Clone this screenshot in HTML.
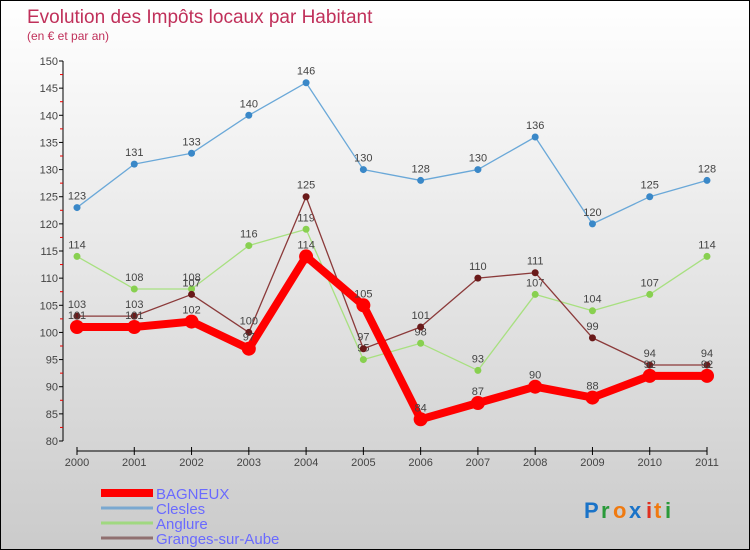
<!DOCTYPE html>
<html><head><meta charset="utf-8"><style>
body{margin:0}
#c{width:748px;height:548px;border:1px solid #000;background:linear-gradient(#fff,#f0f0f0 30%,#cbcbcb);position:relative;font-family:"Liberation Sans",sans-serif;overflow:hidden}
svg{position:absolute;left:0;top:0}
</style></head><body>
<div id="c">
<svg id="s" width="750" height="550">
<text x="26" y="22" font-size="19" fill="#c0305a">Evolution des Impôts locaux par Habitant</text>
<text x="26" y="39" font-size="12" fill="#c0305a">(en € et par an)</text>
<g font-size="22" font-weight="bold"><text x="583" y="517" fill="#1a73c8">P</text><text x="600" y="517" fill="#2a9a3a">r</text><text x="612" y="517" fill="#f07a10">o</text><text x="628" y="517" fill="#1a73c8">x</text><text x="645" y="517" fill="#e03020">i</text><text x="653" y="517" fill="#f07a10">t</text><text x="664" y="517" fill="#2a9a3a">i</text></g>
</svg>
</div>
<script>
const years=["2000","2001","2002","2003","2004","2005","2006","2007","2008","2009","2010","2011"];
const bagneux=[101,101,102,97,114,105,84,87,90,88,92,92];
const clesles=[123,131,133,140,146,130,128,130,136,120,125,128];
const anglure=[114,108,108,116,119,95,98,93,107,104,107,114];
const granges=[103,103,107,100,125,97,101,110,111,99,94,94];
const yTicks=[80,85,90,95,100,105,110,115,120,125,130,135,140,145,150];
const s=document.getElementById('s');const NS='http://www.w3.org/2000/svg';
function X(i){return 76+i*(706-76)/11}
function Y(v){return 440-(v-80)*380/70}
function mk(t,a,p){const e=document.createElementNS(NS,t);for(const k in a)e.setAttribute(k,a[k]);(p||s).appendChild(e);return e}
const ax=mk('g',{});


mk('line',{x1:62,y1:60,x2:62,y2:440,stroke:'#000'},ax);
mk('line',{x1:76,y1:450,x2:706,y2:450,stroke:'#000'},ax);
yTicks.forEach(v=>{mk('line',{x1:58,y1:Y(v),x2:62,y2:Y(v),stroke:'#000'},ax);
if(v<150)mk('line',{x1:59,y1:Y(v+2.5),x2:62,y2:Y(v+2.5),stroke:'#e00'},ax);
const t=mk('text',{x:57,y:Y(v)+4,'text-anchor':'end','font-size':11,fill:'#444'},ax);t.textContent=v;

});
years.forEach((y,i)=>{mk('line',{x1:X(i),y1:446,x2:X(i),y2:454,stroke:'#000'},ax);
const t=mk('text',{x:X(i),y:465,'text-anchor':'middle','font-size':11,fill:'#444'},ax);t.textContent=y;

});
function series(d,col,w,r,dot,name,labels){
const g=mk('g',{});


mk('polyline',{points:d.map((v,i)=>X(i)+','+Y(v)).join(' '),fill:'none',stroke:col,'stroke-width':w,'stroke-linejoin':'round'},g);
d.forEach((v,i)=>{const c=mk('circle',{cx:X(i),cy:Y(v),r:r,fill:dot},g);


const t=mk('text',{x:X(i),y:Y(v)-8,'text-anchor':'middle','font-size':11,fill:'#444'},g);t.textContent=v;

});}
series(clesles,'#6aa8d8',1.3,3.5,'#3a88c8','clesles');
series(anglure,'#a8e080',1.3,3.5,'#88d050','anglure');
series(granges,'#8b3a3a',1.3,3.5,'#6a1a1a','granges');
series(bagneux,'#f00',8,7,'#f00','bagneux');
const leg=[['BAGNEUX','#f00',8],['Clesles','#7aa8d0',3],['Anglure','#a0d880',3],['Granges-sur-Aube','#907070',3]];
leg.forEach((l,i)=>{const y=492+i*15;const g=mk('g',{});


mk('line',{x1:100,y1:y,x2:152,y2:y,stroke:l[1],'stroke-width':l[2]},g);
const t=mk('text',{x:155,y:y+6,'font-size':15,fill:'#6a6aff'},g);t.textContent=l[0];});
</script>
</body></html>
